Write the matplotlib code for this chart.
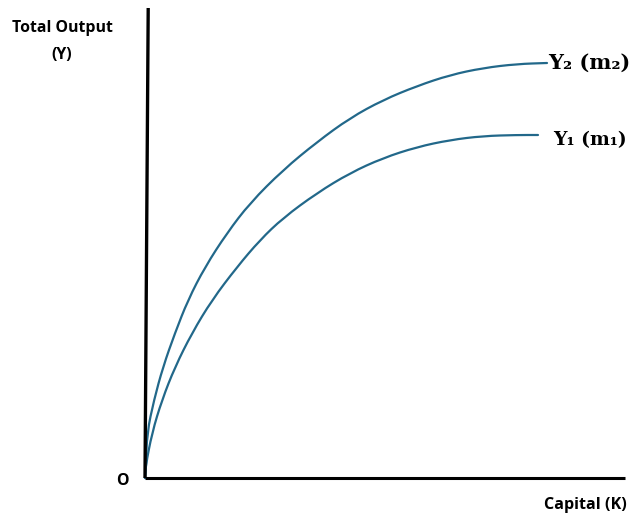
import numpy as np
from matplotlib import pyplot as plt
from matplotlib.path import Path
from matplotlib.patches import PathPatch

# values (K = capital, Y = output)
k_m2 = [0.0, 0.025, 0.05, 0.225, 0.45, 0.75, 1.075, 1.5, 2.05, 2.625, 3.45, 4.3,
        5.125, 5.95, 6.8, 7.625, 8.45, 9.3, 10.05]
y_m2 = [0.0, 0.275, 1.125, 1.95, 2.775, 3.625, 4.45, 5.275, 6.125, 6.875, 7.7, 8.4,
        9.0, 9.45, 9.8, 10.075, 10.25, 10.35, 10.375]

k_m1 = [0.0, 0.0125, 0.175, 0.425, 0.75, 1.175, 1.675, 2.3, 2.875, 3.45, 4.3,
        5.125, 5.95, 6.8, 7.625, 8.45, 9.3, 9.825]
y_m1 = [0.0, 0.275, 1.125, 1.95, 2.775, 3.625, 4.45, 5.275, 5.95, 6.5, 7.125,
        7.625, 8.0, 8.275, 8.45, 8.55, 8.575, 8.575]

linea = '#22688A'


def curva_suave(ax, xs, ys, color):
    # los puntos leidos hacen de puntos de control de una curva cuadratica
    pts = np.column_stack([xs, ys])
    mid = (pts[:-1] + pts[1:]) / 2
    verts = [pts[0], mid[0]]
    codes = [Path.MOVETO, Path.LINETO]
    for i in range(1, len(pts) - 1):
        verts += [pts[i], mid[i]]
        codes += [Path.CURVE3, Path.CURVE3]
    verts.append(pts[-1])
    codes.append(Path.LINETO)
    ax.add_patch(PathPatch(Path(verts, codes), fill=False, edgecolor=color,
                           linewidth=1.6, capstyle='round'))


fig = plt.figure(figsize=(6.39, 5.15), dpi=100)
ax = fig.add_axes([0, 0, 1, 1])
ax.set_xlim(-3.625, 12.35)
ax.set_ylim(-0.925, 11.95)
ax.axis('off')

#======================== Ejes
ax.plot([0, 12.0], [0, 0], color='black', linewidth=2.2, solid_capstyle='butt')
ax.plot([0, 0.08], [0, 11.75], color='black', linewidth=2.4, solid_capstyle='butt')

#======================== Curvas
curva_suave(ax, k_m2, y_m2, linea)
curva_suave(ax, k_m1, y_m1, linea)

#======================== Textos
sans = ['Open Sans', 'DejaVu Sans']
serif = ['DejaVu Serif']
fig.text(62 / 639, 1 - 28 / 515, 'Total Output', family=sans, weight='bold',
         fontsize=11.4, ha='center', va='center')
fig.text(62 / 639, 1 - 55 / 515, '(Y)', family=sans, weight='bold',
         fontsize=11.4, ha='center', va='center')
fig.text(122 / 639, 1 - 481 / 515, 'O', family=sans, weight='bold',
         fontsize=11.4, ha='center', va='center')
fig.text(585 / 639, 1 - 505 / 515, 'Capital (K)', family=sans, weight='bold',
         fontsize=11.6, ha='center', va='center')
fig.text(548 / 639, 1 - 63 / 515, 'Y\u2082 (m\u2082)', family=serif, weight='bold',
         fontsize=15, ha='left', va='center')
fig.text(553 / 639, 1 - 140 / 515, 'Y\u2081 (m\u2081)', family=serif, weight='bold',
         fontsize=13.5, ha='left', va='center')

plt.savefig('out.png', dpi=100)
